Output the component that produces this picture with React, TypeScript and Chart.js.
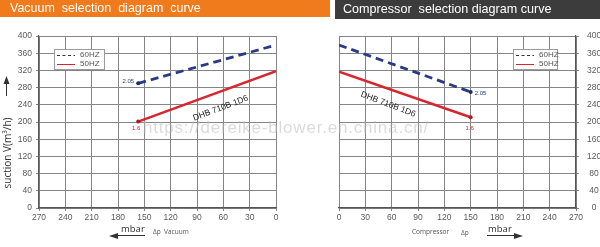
import React, { useEffect, useRef } from "react";
import { Chart, registerables } from "chart.js";

Chart.register(...registerables);

// ---- data ----
const xTickStep = 30;
const xMax = 270;
const yTickStep = 40;
const yMax = 400;

const vacuumPressure = [157, 0];
const vacuum60 = [290, 379];
const vacuum50 = [201, 318];

const compPressure = [0, 150];
const comp60 = [379, 270];
const comp50 = [317, 211];

const legendLabels = ["60HZ", "50HZ"];
const speedLabels = ["2.05", "1.6"];
const modelName = "DHB 710B 1D6";
const watermark = "https://dereike-blower.en.china.cn/";

const NAVY = "#2b3a86";
const RED = "#d8262e";
const TICK_FONT = "'Liberation Sans Narrow', 'Liberation Sans', Arial, sans-serif";

type Side = "vacuum" | "compressor";

function makePlugin(side: Side) {
  return {
    id: "deco_" + side,
    afterDraw(chart: any) {
      const ctx = chart.ctx as CanvasRenderingContext2D;
      const xs = chart.scales.x;
      const ys = chart.scales.y;
      const ca = chart.chartArea;
      ctx.save();
      // legend box
      const lx = side === "vacuum" ? ca.left + 15 : ca.right - 63;
      const ly = 49;
      const lw = side === "vacuum" ? 50 : 44;
      ctx.fillStyle = "#fff";
      ctx.fillRect(lx, ly, lw, 20);
      ctx.strokeStyle = "#9a9a9a";
      ctx.lineWidth = 1;
      ctx.strokeRect(lx + 0.5, ly + 0.5, lw, 20);
      ctx.lineWidth = 1;
      ctx.strokeStyle = "#333";
      ctx.setLineDash([3, 2.5]);
      ctx.beginPath();
      ctx.moveTo(lx + 3, ly + 6.5);
      ctx.lineTo(lx + 21, ly + 6.5);
      ctx.stroke();
      ctx.setLineDash([]);
      ctx.strokeStyle = RED;
      ctx.beginPath();
      ctx.moveTo(lx + 3, ly + 15.5);
      ctx.lineTo(lx + 21, ly + 15.5);
      ctx.stroke();
      ctx.fillStyle = "#555";
      ctx.font = "8px " + TICK_FONT;
      ctx.textBaseline = "middle";
      ctx.textAlign = "left";
      ctx.fillText(legendLabels[0], lx + 26, ly + 6);
      ctx.fillText(legendLabels[1], lx + 26, ly + 15);

      // speed labels near end points
      ctx.font = "6px " + TICK_FONT;
      if (side === "vacuum") {
        const px60 = xs.getPixelForValue(vacuumPressure[0]);
        const py60 = ys.getPixelForValue(vacuum60[0]);
        ctx.fillStyle = NAVY;
        ctx.textAlign = "right";
        ctx.fillText(speedLabels[0], px60 - 4, py60 - 2);
        const px50 = xs.getPixelForValue(vacuumPressure[0]);
        const py50 = ys.getPixelForValue(vacuum50[0]);
        ctx.fillStyle = RED;
        ctx.textAlign = "center";
        ctx.fillText(speedLabels[1], px50 - 2, py50 + 7);
      } else {
        const px60 = xs.getPixelForValue(compPressure[1]);
        const py60 = ys.getPixelForValue(comp60[1]);
        ctx.fillStyle = NAVY;
        ctx.textAlign = "left";
        ctx.fillText(speedLabels[0], px60 + 4, py60 + 1);
        const px50 = xs.getPixelForValue(compPressure[1]);
        const py50 = ys.getPixelForValue(comp50[1]);
        ctx.fillStyle = RED;
        ctx.textAlign = "center";
        ctx.fillText(speedLabels[1], px50 - 1, py50 + 11);
      }

      // model name rotated
      ctx.fillStyle = "#222";
      ctx.font = "8.5px Arial, 'Liberation Sans', sans-serif";
      ctx.textAlign = "center";
      ctx.save();
      if (side === "vacuum") {
        ctx.translate(xs.getPixelForValue(63), ys.getPixelForValue(232));
        ctx.rotate(-0.36);
      } else {
        ctx.translate(xs.getPixelForValue(56), ys.getPixelForValue(241));
        ctx.rotate(0.36);
      }
      ctx.fillText(modelName, 0, 0);
      ctx.restore();

      // axis titles
      ctx.fillStyle = "#444";
      ctx.textBaseline = "alphabetic";
      if (side === "vacuum") {
        // vertical title
        ctx.save();
        ctx.translate(11, 153);
        ctx.rotate(-Math.PI / 2);
        ctx.font = "10px 'Open Sans', 'DejaVu Sans', sans-serif";
        ctx.textAlign = "center";
        ctx.fillStyle = "#333";
        ctx.fillText("suction V(m\u00B3/h)", 0, 0);
        ctx.restore();
        // up arrow
        ctx.strokeStyle = "#333";
        ctx.fillStyle = "#333";
        ctx.lineWidth = 1;
        ctx.beginPath();
        ctx.moveTo(6.5, 96);
        ctx.lineTo(6.5, 82);
        ctx.stroke();
        ctx.beginPath();
        ctx.moveTo(6.5, 76);
        ctx.lineTo(3.5, 84);
        ctx.lineTo(9.5, 84);
        ctx.closePath();
        ctx.fill();
        // mbar
        ctx.font = "9.5px 'Open Sans', 'DejaVu Sans', sans-serif";
        ctx.textAlign = "left";
        ctx.fillStyle = "#333";
        ctx.fillText("mbar", 121, 232);
        ctx.beginPath();
        ctx.moveTo(114, 235.5);
        ctx.lineTo(145, 235.5);
        ctx.stroke();
        ctx.beginPath();
        ctx.moveTo(109, 236);
        ctx.lineTo(118, 233);
        ctx.lineTo(118, 239);
        ctx.closePath();
        ctx.fill();
        ctx.font = "6.5px 'Open Sans', 'DejaVu Sans', sans-serif";
        ctx.fillStyle = "#555";
        ctx.fillText("\u0394p  Vacuum", 153, 234);
      } else {
        ctx.font = "6.5px 'Open Sans', 'DejaVu Sans', sans-serif";
        ctx.textAlign = "left";
        ctx.fillStyle = "#555";
        ctx.fillText("Compressor", 112, 234);
        ctx.fillText("\u0394p", 161, 235);
        ctx.font = "9.5px 'Open Sans', 'DejaVu Sans', sans-serif";
        ctx.fillStyle = "#333";
        ctx.fillText("mbar", 188, 232);
        ctx.strokeStyle = "#333";
        ctx.lineWidth = 1;
        ctx.beginPath();
        ctx.moveTo(187, 235.5);
        ctx.lineTo(216, 235.5);
        ctx.stroke();
        ctx.beginPath();
        ctx.moveTo(223, 236);
        ctx.lineTo(214, 233);
        ctx.lineTo(214, 239);
        ctx.closePath();
        ctx.fill();
      }
      ctx.restore();
    },
  };
}

function ChartPanel({ side }: { side: Side }) {
  const ref = useRef<HTMLCanvasElement | null>(null);
  useEffect(() => {
    if (!ref.current) return;
    const isVac = side === "vacuum";
    const px = isVac ? vacuumPressure : compPressure;
    const d60 = isVac ? vacuum60 : comp60;
    const d50 = isVac ? vacuum50 : comp50;
    const endIdx = isVac ? 0 : 1;
    const radii = px.map((_, i) => (i === endIdx ? 2 : 0));
    const chart = new Chart(ref.current, {
      type: "scatter",
      data: {
        datasets: [
          {
            label: legendLabels[0],
            data: px.map((x, i) => ({ x, y: d60[i] })),
            showLine: true,
            borderColor: NAVY,
            backgroundColor: "#1e2a66",
            borderWidth: 2.8,
            borderDash: [8, 5],
            pointRadius: radii,
            pointBorderWidth: 0,
          },
          {
            label: legendLabels[1],
            data: px.map((x, i) => ({ x, y: d50[i] })),
            showLine: true,
            borderColor: RED,
            backgroundColor: "#b01a22",
            borderWidth: 2.5,
            pointRadius: radii,
            pointBorderWidth: 0,
          },
        ],
      },
      options: {
        animation: false,
        responsive: false,
        maintainAspectRatio: false,
        layout: {
          padding: isVac
            ? { top: 36, right: 24, left: 0, bottom: 0 }
            : { top: 36, right: 0, left: 39, bottom: 0 },
        },
        plugins: { legend: { display: false }, tooltip: { enabled: false } },
        scales: {
          x: {
            type: "linear",
            min: 0,
            max: xMax,
            reverse: isVac,
            afterFit: (s: any) => {
              s.height = 39;
            },
            ticks: {
              stepSize: xTickStep,
              color: "#5a5a5a",
              font: { size: 8.5, family: TICK_FONT },
              padding: 2,
              maxRotation: 0,
            },
            grid: { color: "#858585", lineWidth: 1, tickLength: 3 },
            border: { color: "#555", width: 1.2 },
          },
          y: {
            min: 0,
            max: yMax,
            position: isVac ? "left" : "right",
            afterFit: (s: any) => {
              s.width = isVac ? 39 : 24;
            },
            ticks: {
              stepSize: yTickStep,
              color: "#5a5a5a",
              font: { size: 8.5, family: TICK_FONT },
              padding: isVac ? 4 : 8,
              crossAlign: isVac ? "near" : "center",
            },
            grid: { color: "#858585", lineWidth: 1, tickLength: 3 },
            border: { color: "#555", width: 1.2 },
          },
        },
      },
      plugins: [makePlugin(side)],
    } as any);
    return () => chart.destroy();
  }, [side]);
  return (
    <canvas
      ref={ref}
      width={300}
      height={247}
      style={{ position: "absolute", left: side === "vacuum" ? 0 : 300, top: 0, width: 300, height: 247 }}
    />
  );
}

export default function App() {
  return (
    <div
      style={{
        position: "absolute",
        left: 0,
        top: 0,
        width: 600,
        height: 247,
        background: "#fff",
        overflow: "hidden",
        fontFamily: "Arial, 'Liberation Sans', sans-serif",
      }}
    >
      <ChartPanel side="vacuum" />
      <ChartPanel side="compressor" />
      <div
        style={{
          position: "absolute",
          left: 0,
          top: 0,
          width: 330,
          height: 17,
          background: "#ef7b1d",
        }}
      />
      <div
        style={{
          position: "absolute",
          left: 10,
          top: 0,
          height: 17,
          lineHeight: "17px",
          color: "#fff",
          fontSize: 12.5,
          whiteSpace: "pre",
        }}
      >
        {"Vacuum  selection  diagram  curve"}
      </div>
      <div
        style={{
          position: "absolute",
          left: 335,
          top: 0,
          width: 265,
          height: 19,
          lineHeight: "19px",
          background: "#3c3c3c",
          color: "#fff",
          fontSize: 12.6,
          whiteSpace: "pre",
          paddingLeft: 8,
          boxSizing: "border-box",
        }}
      >
        {"Compressor  selection diagram curve"}
      </div>
      <div
        style={{
          position: "absolute",
          left: 143,
          top: 118,
          fontSize: 17,
          color: "rgba(190,190,190,0.55)",
          whiteSpace: "pre",
          letterSpacing: 0.8,
        }}
      >
        {watermark}
      </div>
    </div>
  );
}
